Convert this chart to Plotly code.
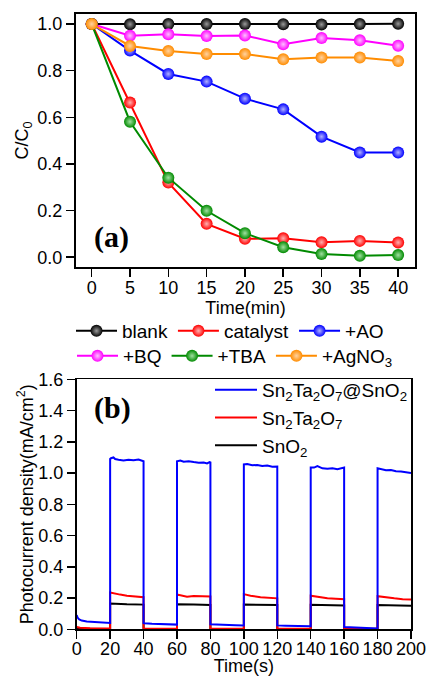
import plotly.graph_objects as go

# ---------------- (a) degradation data ----------------
time_min = [0, 5, 10, 15, 20, 25, 30, 35, 40]
blank = [1.0, 0.999, 1.0, 1.0, 1.0, 0.999, 0.998, 1.0, 1.001]
catalyst = [1.0, 0.663, 0.32, 0.143, 0.079, 0.081, 0.064, 0.07, 0.063]
ao = [1.0, 0.886, 0.786, 0.753, 0.68, 0.634, 0.517, 0.449, 0.449]
bq = [1.0, 0.95, 0.956, 0.949, 0.951, 0.913, 0.94, 0.93, 0.907]
tba = [1.0, 0.581, 0.341, 0.199, 0.103, 0.043, 0.014, 0.006, 0.009]
agno3 = [1.0, 0.906, 0.884, 0.871, 0.871, 0.849, 0.856, 0.856, 0.841]

names_a = ["blank", "catalyst", "+AO", "+BQ", "+TBA", "+AgNO<sub>3</sub>"]
series_a = [blank, catalyst, ao, bq, tba, agno3]
colors_a = ["#000000", "#ff0000", "#0000ff", "#ff00ff", "#008a00", "#ff8c00"]
grad_a = ["#9a9a9a", "#ffb0b0", "#b0b0ff", "#ffc0ff", "#a0e0a0", "#ffd2a0"]

# ---------------- (b) photocurrent data ----------------
t_blue = [0, 0.5, 1.5, 3, 6, 10, 15, 20,
          20, 20.5, 22, 23, 25, 28, 31, 34, 37, 39.5, 40,
          40, 40.5, 45, 50, 55, 60,
          60, 62, 64, 67, 70, 73, 76, 78, 79.5, 80,
          80, 85, 90, 95, 100,
          100, 102, 105, 108, 111, 114, 117, 120,
          120, 125, 130, 135, 140,
          140, 142, 144, 147, 150, 153, 156, 158, 160,
          160, 165, 170, 175, 180,
          180, 182, 185, 188, 191, 194, 197, 200]
j_blue = [0.092, 0.075, 0.063, 0.056, 0.050, 0.046, 0.042, 0.040,
          1.09, 1.095, 1.10, 1.09, 1.085, 1.08, 1.085, 1.082, 1.086, 1.078, 1.075,
          0.040, 0.038, 0.035, 0.033, 0.031, 0.030,
          1.075, 1.08, 1.072, 1.075, 1.07, 1.066, 1.068, 1.062, 1.07, 1.068,
          0.032, 0.029, 0.027, 0.026, 0.025,
          1.055, 1.058, 1.05, 1.052, 1.045, 1.048, 1.04, 1.042,
          0.025, 0.023, 0.022, 0.021, 0.020,
          1.035, 1.035, 1.045, 1.03, 1.028, 1.03, 1.025, 1.03, 1.035,
          0.015, 0.012, 0.009, 0.007, 0.005,
          1.03, 1.025, 1.018, 1.02, 1.012, 1.01, 1.006, 1.0]

t_red = [0, 2, 8, 20,
         20, 22, 26, 30, 35, 40,
         40, 60,
         60, 63, 66, 70, 75, 80,
         80, 100,
         100, 104, 110, 115, 120,
         120, 140,
         140, 145, 150, 155, 160,
         160, 180,
         180, 185, 190, 195, 200]
j_red = [0.015, 0.010, 0.006, 0.005,
         0.235, 0.232, 0.222, 0.215, 0.208, 0.205,
         0.005, 0.004,
         0.222, 0.215, 0.208, 0.213, 0.212, 0.210,
         0.004, 0.004,
         0.225, 0.215, 0.205, 0.200, 0.198,
         0.004, 0.004,
         0.215, 0.205, 0.198, 0.195, 0.193,
         0.004, 0.003,
         0.212, 0.203, 0.198, 0.193, 0.190]

t_black = [0, 20,
           20, 25, 30, 40,
           40, 60,
           60, 70, 80,
           80, 100,
           100, 110, 120,
           120, 140,
           140, 150, 160,
           160, 180,
           180, 190, 200]
j_black = [0.003, 0.002,
           0.165, 0.162, 0.160, 0.158,
           0.002, 0.002,
           0.160, 0.158, 0.156,
           0.002, 0.002,
           0.158, 0.156, 0.155,
           0.002, 0.002,
           0.157, 0.155, 0.153,
           0.002, 0.002,
           0.155, 0.152, 0.150]

FONT = "Liberation Sans, Arial, sans-serif"
SERIF = "Liberation Serif, Times New Roman, serif"
W, H = 429, 676

# subplot domains (fractions of the figure)
dom_a_x = [76 / W, 415 / W]
dom_a_y = [1 - 267 / H, 1 - 14 / H]
dom_b_x = [76.7 / W, 411 / W]
dom_b_y = [1 - 629.3 / H, 1 - 379.3 / H]

fig = go.Figure()

legend_of = ["legend", "legend", "legend", "legend3", "legend3", "legend3"]
for name, ys, col, gc, lg in zip(names_a, series_a, colors_a, grad_a, legend_of):
    fig.add_trace(go.Scatter(
        x=time_min, y=ys, name=name, mode="lines+markers",
        line=dict(color=col, width=2),
        marker=dict(size=12, color=col, gradient=dict(type="radial", color=gc),
                    line=dict(width=0)),
        xaxis="x", yaxis="y", legend=lg))

for name, tx, jy, col in [("SnO<sub>2</sub>", t_black, j_black, "#000000"),
                          ("Sn<sub>2</sub>Ta<sub>2</sub>O<sub>7</sub>", t_red, j_red, "#ff0000"),
                          ("Sn<sub>2</sub>Ta<sub>2</sub>O<sub>7</sub>@SnO<sub>2</sub>", t_blue, j_blue, "#0000ff")]:
    fig.add_trace(go.Scatter(
        x=tx, y=jy, name=name, mode="lines",
        line=dict(color=col, width=2),
        xaxis="x2", yaxis="y2", legend="legend2"))

axis_common = dict(showline=True, mirror=True, linecolor="#000000",
                   ticks="outside", ticklen=8, tickwidth=1.5, tickcolor="#000000",
                   showgrid=False, zeroline=False, automargin=False, tickangle=0,
                   tickfont=dict(family=FONT, size=18, color="black"),
                   title_font=dict(family=FONT, size=18, color="black"))

fig.update_layout(
    width=W, height=H,
    template="none",
    margin=dict(l=0, r=0, t=0, b=0, autoexpand=False),
    paper_bgcolor="white", plot_bgcolor="rgba(0,0,0,0)",
    font=dict(family=FONT, color="black"),
    xaxis=dict(domain=dom_a_x, range=[-2.05, 42.2], tickvals=time_min,
               anchor="y", ticklabelstandoff=-5, linewidth=2,
               title=dict(text="Time(min)", standoff=0), **axis_common),
    yaxis=dict(domain=dom_a_y, range=[-0.042, 1.043],
               tickvals=[0, 0.2, 0.4, 0.6, 0.8, 1.0], tickformat=".1f",
               anchor="x", linewidth=2,
               title=dict(text="C/C<sub>0</sub>", standoff=4), **axis_common),
    xaxis2=dict(domain=dom_b_x, range=[0, 200], dtick=20, tick0=0,
                anchor="y2", ticklabelstandoff=-6, linewidth=1.8,
                title=dict(text="Time(s)", standoff=0), **axis_common),
    yaxis2=dict(domain=dom_b_y, range=[0, 1.6], dtick=0.2,
                tickformat=".1f", anchor="x2", linewidth=1.8,
                title=dict(text="Photocurrent density(mA/cm<sup>2</sup>)", standoff=0),
                **axis_common),
    legend=dict(orientation="h", x=71 / W, y=1 - 312 / H, xanchor="left", yanchor="top",
                itemwidth=41, bgcolor="rgba(0,0,0,0)",
                font=dict(family=FONT, size=19, color="black")),
    legend3=dict(orientation="h", x=72 / W, y=1 - 337 / H, xanchor="left", yanchor="top",
                 itemwidth=41, bgcolor="rgba(0,0,0,0)",
                 font=dict(family=FONT, size=19, color="black")),
    legend2=dict(orientation="v", x=210 / W, y=1 - 371 / H, xanchor="left", yanchor="top",
                 itemwidth=42, traceorder="reversed", bgcolor="rgba(0,0,0,0)",
                 font=dict(family=FONT, size=19, color="black")),
    annotations=[
        dict(text="<b>(a)</b>", x=111 / W, y=1 - 237 / H, xref="paper", yref="paper",
             xanchor="center", yanchor="middle", showarrow=False,
             font=dict(family=SERIF, size=30, color="black")),
        dict(text="<b>(b)</b>", x=112 / W, y=1 - 408 / H, xref="paper", yref="paper",
             xanchor="center", yanchor="middle", showarrow=False,
             font=dict(family=SERIF, size=30, color="black")),
    ],
)

fig.write_html("out.html", config={"displayModeBar": False, "staticPlot": True},
               post_script="document.body.style.margin='0';document.body.style.padding='0';")
